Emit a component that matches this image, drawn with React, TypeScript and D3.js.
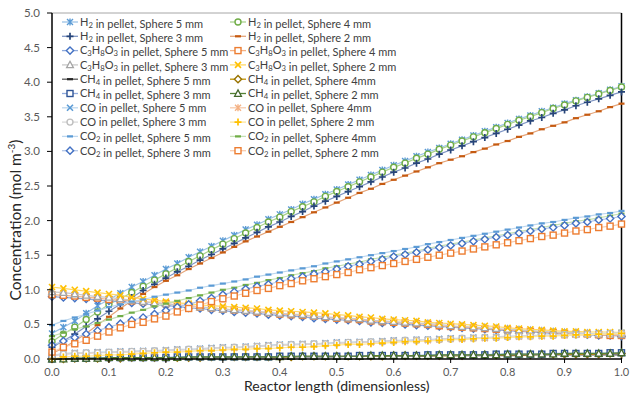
import * as d3 from "d3";

// reactor length, dimensionless (marker positions)
const xValues = [0, 0.02, 0.04, 0.06, 0.08, 0.1, 0.12, 0.14, 0.16, 0.18, 0.2, 0.22, 0.24, 0.26, 0.28, 0.3, 0.32, 0.34, 0.36, 0.38, 0.4, 0.42, 0.44, 0.46, 0.48, 0.5, 0.52, 0.54, 0.56, 0.58, 0.6, 0.62, 0.64, 0.66, 0.68, 0.7, 0.72, 0.74, 0.76, 0.78, 0.8, 0.82, 0.84, 0.86, 0.88, 0.9, 0.92, 0.94, 0.96, 0.98, 1];

const xTicks = [0, 0.1, 0.2, 0.3, 0.4, 0.5, 0.6, 0.7, 0.8, 0.9, 1];
const yTicks = [0, 0.5, 1, 1.5, 2, 2.5, 3, 3.5, 4, 4.5, 5];

// H2
const h2s5 = [0.37, 0.46, 0.55, 0.66, 0.77, 0.86, 0.95, 1.04, 1.12, 1.21, 1.30, 1.38, 1.47, 1.55, 1.63, 1.71, 1.79, 1.87, 1.94, 2.02, 2.09, 2.16, 2.24, 2.31, 2.38, 2.45, 2.52, 2.59, 2.66, 2.73, 2.80, 2.86, 2.93, 2.99, 3.05, 3.11, 3.17, 3.23, 3.29, 3.35, 3.41, 3.47, 3.52, 3.58, 3.63, 3.69, 3.74, 3.79, 3.84, 3.89, 3.94];
const h2s4 = [0.25, 0.36, 0.46, 0.57, 0.68, 0.79, 0.87, 0.96, 1.05, 1.14, 1.23, 1.32, 1.41, 1.49, 1.58, 1.66, 1.74, 1.82, 1.90, 1.98, 2.05, 2.13, 2.20, 2.27, 2.35, 2.42, 2.49, 2.56, 2.63, 2.70, 2.77, 2.83, 2.90, 2.96, 3.03, 3.09, 3.15, 3.21, 3.27, 3.33, 3.39, 3.45, 3.50, 3.56, 3.62, 3.67, 3.73, 3.78, 3.83, 3.88, 3.93];
const h2s3 = [0.17, 0.26, 0.36, 0.47, 0.58, 0.69, 0.79, 0.89, 0.99, 1.08, 1.17, 1.26, 1.34, 1.43, 1.51, 1.59, 1.67, 1.75, 1.83, 1.91, 1.98, 2.06, 2.13, 2.21, 2.28, 2.35, 2.42, 2.49, 2.56, 2.63, 2.70, 2.76, 2.83, 2.89, 2.96, 3.02, 3.08, 3.14, 3.20, 3.26, 3.32, 3.38, 3.44, 3.49, 3.55, 3.60, 3.66, 3.71, 3.76, 3.81, 3.86];
const h2s2 = [0.08, 0.16, 0.26, 0.37, 0.49, 0.61, 0.73, 0.84, 0.94, 1.04, 1.13, 1.21, 1.30, 1.38, 1.46, 1.54, 1.62, 1.70, 1.77, 1.84, 1.91, 1.98, 2.05, 2.12, 2.19, 2.26, 2.33, 2.40, 2.46, 2.53, 2.59, 2.65, 2.71, 2.77, 2.83, 2.88, 2.93, 2.99, 3.04, 3.10, 3.15, 3.21, 3.26, 3.32, 3.37, 3.42, 3.48, 3.53, 3.58, 3.64, 3.69];

// C3H8O3
const glyS5 = [0.90, 0.89, 0.88, 0.87, 0.85, 0.84, 0.83, 0.81, 0.80, 0.78, 0.77, 0.76, 0.74, 0.73, 0.71, 0.70, 0.68, 0.67, 0.66, 0.64, 0.63, 0.62, 0.61, 0.59, 0.58, 0.57, 0.56, 0.55, 0.53, 0.52, 0.51, 0.50, 0.49, 0.48, 0.47, 0.46, 0.45, 0.44, 0.43, 0.42, 0.41, 0.40, 0.39, 0.38, 0.37, 0.36, 0.36, 0.35, 0.34, 0.34, 0.33];
const glyS4 = [0.93, 0.92, 0.91, 0.89, 0.88, 0.86, 0.85, 0.84, 0.83, 0.81, 0.80, 0.78, 0.77, 0.75, 0.74, 0.72, 0.71, 0.70, 0.68, 0.67, 0.65, 0.64, 0.63, 0.62, 0.60, 0.59, 0.58, 0.57, 0.55, 0.54, 0.53, 0.52, 0.51, 0.50, 0.48, 0.47, 0.46, 0.45, 0.44, 0.43, 0.42, 0.41, 0.40, 0.39, 0.38, 0.37, 0.36, 0.36, 0.35, 0.34, 0.34];
const glyS3 = [0.97, 0.96, 0.94, 0.92, 0.90, 0.89, 0.87, 0.85, 0.83, 0.81, 0.80, 0.78, 0.77, 0.75, 0.74, 0.72, 0.71, 0.70, 0.69, 0.67, 0.66, 0.65, 0.64, 0.62, 0.61, 0.60, 0.59, 0.58, 0.56, 0.55, 0.54, 0.53, 0.52, 0.51, 0.50, 0.48, 0.47, 0.46, 0.45, 0.44, 0.43, 0.42, 0.41, 0.40, 0.39, 0.38, 0.38, 0.37, 0.36, 0.36, 0.35];
const glyS2 = [1.04, 1.02, 1.00, 0.98, 0.96, 0.94, 0.92, 0.89, 0.87, 0.85, 0.83, 0.81, 0.80, 0.78, 0.77, 0.76, 0.75, 0.74, 0.73, 0.71, 0.70, 0.69, 0.68, 0.67, 0.66, 0.64, 0.63, 0.61, 0.60, 0.58, 0.57, 0.56, 0.55, 0.53, 0.52, 0.51, 0.50, 0.49, 0.48, 0.47, 0.45, 0.44, 0.43, 0.42, 0.41, 0.40, 0.40, 0.39, 0.39, 0.39, 0.38];

// CH4
const ch4s5 = [0.00, 0.00, 0.01, 0.01, 0.01, 0.01, 0.01, 0.01, 0.01, 0.02, 0.02, 0.02, 0.02, 0.02, 0.02, 0.02, 0.02, 0.03, 0.03, 0.03, 0.03, 0.03, 0.03, 0.03, 0.03, 0.03, 0.04, 0.04, 0.04, 0.04, 0.04, 0.04, 0.04, 0.04, 0.05, 0.05, 0.05, 0.05, 0.05, 0.05, 0.05, 0.05, 0.06, 0.06, 0.06, 0.06, 0.06, 0.06, 0.06, 0.06, 0.06];
const ch4s4 = [0.00, 0.00, 0.01, 0.01, 0.01, 0.01, 0.01, 0.02, 0.02, 0.02, 0.02, 0.02, 0.02, 0.02, 0.03, 0.03, 0.03, 0.03, 0.03, 0.03, 0.03, 0.03, 0.04, 0.04, 0.04, 0.04, 0.04, 0.04, 0.04, 0.04, 0.05, 0.05, 0.05, 0.05, 0.05, 0.05, 0.05, 0.06, 0.06, 0.06, 0.06, 0.06, 0.06, 0.07, 0.07, 0.07, 0.07, 0.07, 0.07, 0.08, 0.08];
const ch4s3 = [0.00, 0.01, 0.01, 0.01, 0.02, 0.02, 0.02, 0.02, 0.02, 0.02, 0.02, 0.03, 0.03, 0.03, 0.03, 0.03, 0.03, 0.03, 0.03, 0.03, 0.04, 0.04, 0.04, 0.04, 0.04, 0.04, 0.04, 0.05, 0.05, 0.05, 0.05, 0.05, 0.05, 0.06, 0.06, 0.06, 0.06, 0.06, 0.06, 0.07, 0.07, 0.07, 0.07, 0.07, 0.08, 0.08, 0.08, 0.08, 0.08, 0.09, 0.09];
const ch4s2 = [0.00, 0.00, 0.01, 0.01, 0.01, 0.02, 0.02, 0.02, 0.02, 0.02, 0.02, 0.02, 0.03, 0.03, 0.03, 0.03, 0.03, 0.03, 0.03, 0.03, 0.03, 0.04, 0.04, 0.04, 0.04, 0.04, 0.04, 0.04, 0.05, 0.05, 0.05, 0.05, 0.05, 0.05, 0.06, 0.06, 0.06, 0.06, 0.06, 0.06, 0.07, 0.07, 0.07, 0.07, 0.07, 0.08, 0.08, 0.08, 0.08, 0.08, 0.09];

// CO
const coS5 = [0.05, 0.08, 0.09, 0.09, 0.10, 0.10, 0.11, 0.11, 0.12, 0.12, 0.13, 0.14, 0.14, 0.15, 0.16, 0.17, 0.17, 0.18, 0.19, 0.20, 0.21, 0.21, 0.22, 0.22, 0.23, 0.24, 0.24, 0.25, 0.25, 0.26, 0.27, 0.27, 0.28, 0.28, 0.29, 0.30, 0.30, 0.31, 0.31, 0.32, 0.33, 0.33, 0.34, 0.34, 0.35, 0.35, 0.36, 0.36, 0.37, 0.37, 0.38];
const coS4 = [0.04, 0.07, 0.08, 0.08, 0.09, 0.09, 0.10, 0.10, 0.11, 0.11, 0.12, 0.13, 0.13, 0.14, 0.15, 0.16, 0.16, 0.17, 0.18, 0.19, 0.20, 0.20, 0.21, 0.21, 0.22, 0.23, 0.23, 0.24, 0.24, 0.25, 0.26, 0.26, 0.27, 0.27, 0.28, 0.29, 0.29, 0.30, 0.30, 0.31, 0.32, 0.32, 0.33, 0.33, 0.34, 0.34, 0.35, 0.35, 0.36, 0.36, 0.37];
const coS3 = [0.05, 0.07, 0.08, 0.09, 0.09, 0.10, 0.10, 0.11, 0.11, 0.12, 0.12, 0.13, 0.14, 0.14, 0.15, 0.16, 0.17, 0.17, 0.18, 0.19, 0.20, 0.21, 0.21, 0.22, 0.22, 0.23, 0.24, 0.24, 0.25, 0.25, 0.26, 0.27, 0.27, 0.28, 0.28, 0.29, 0.30, 0.30, 0.31, 0.31, 0.32, 0.33, 0.33, 0.34, 0.34, 0.35, 0.35, 0.36, 0.36, 0.37, 0.37];
const coS2 = [0.00, 0.03, 0.04, 0.04, 0.05, 0.06, 0.06, 0.07, 0.08, 0.09, 0.10, 0.10, 0.11, 0.12, 0.12, 0.13, 0.14, 0.14, 0.15, 0.15, 0.16, 0.17, 0.17, 0.18, 0.19, 0.20, 0.21, 0.21, 0.22, 0.23, 0.24, 0.25, 0.25, 0.26, 0.27, 0.28, 0.28, 0.29, 0.30, 0.30, 0.31, 0.32, 0.32, 0.33, 0.33, 0.34, 0.35, 0.35, 0.36, 0.36, 0.37];

// CO2
const co2s5 = [0.49, 0.55, 0.60, 0.65, 0.70, 0.75, 0.79, 0.83, 0.86, 0.90, 0.93, 0.96, 0.99, 1.03, 1.06, 1.09, 1.12, 1.15, 1.19, 1.22, 1.25, 1.28, 1.31, 1.34, 1.38, 1.41, 1.44, 1.47, 1.50, 1.53, 1.56, 1.59, 1.62, 1.66, 1.69, 1.72, 1.75, 1.78, 1.81, 1.84, 1.87, 1.90, 1.93, 1.96, 1.98, 2.01, 2.04, 2.06, 2.09, 2.11, 2.14];
const co2s4 = [0.33, 0.38, 0.43, 0.47, 0.52, 0.57, 0.62, 0.67, 0.71, 0.76, 0.80, 0.84, 0.88, 0.92, 0.96, 1.00, 1.03, 1.07, 1.10, 1.14, 1.17, 1.21, 1.24, 1.27, 1.31, 1.34, 1.37, 1.40, 1.44, 1.47, 1.50, 1.53, 1.56, 1.60, 1.63, 1.66, 1.69, 1.72, 1.75, 1.78, 1.81, 1.84, 1.87, 1.90, 1.93, 1.96, 1.99, 2.01, 2.04, 2.07, 2.10];
const co2s3 = [0.20, 0.26, 0.31, 0.36, 0.41, 0.46, 0.51, 0.56, 0.60, 0.65, 0.70, 0.75, 0.79, 0.84, 0.88, 0.93, 0.97, 1.01, 1.05, 1.08, 1.12, 1.16, 1.19, 1.23, 1.26, 1.30, 1.34, 1.37, 1.41, 1.44, 1.48, 1.51, 1.54, 1.58, 1.61, 1.64, 1.67, 1.70, 1.73, 1.76, 1.79, 1.82, 1.85, 1.88, 1.90, 1.93, 1.96, 1.98, 2.01, 2.03, 2.06];
const co2s2 = [0.10, 0.17, 0.22, 0.27, 0.33, 0.39, 0.45, 0.50, 0.53, 0.58, 0.62, 0.68, 0.73, 0.78, 0.83, 0.87, 0.91, 0.95, 0.99, 1.02, 1.06, 1.09, 1.13, 1.16, 1.19, 1.22, 1.25, 1.29, 1.32, 1.35, 1.38, 1.41, 1.44, 1.47, 1.50, 1.53, 1.56, 1.59, 1.62, 1.65, 1.68, 1.71, 1.74, 1.77, 1.79, 1.82, 1.85, 1.87, 1.90, 1.92, 1.95];

// series in Excel order (legend is row-major, two columns)
const series = [
  { sp: "H2", size: "5 mm", values: h2s5, color: "#5B9BD5", line: "#9DC3E6", marker: "star" },
  { sp: "H2", size: "4 mm", values: h2s4, color: "#70AD47", line: "#A9D18E", marker: "circle" },
  { sp: "H2", size: "3 mm", values: h2s3, color: "#264478", line: "#7F95C3", marker: "plus" },
  { sp: "H2", size: "2 mm", values: h2s2, color: "#C55A11", line: "#E5A57A", marker: "dash" },
  { sp: "C3H8O3", size: "5 mm", values: glyS5, color: "#4472C4", line: "#8FAADC", marker: "diamond" },
  { sp: "C3H8O3", size: "4 mm", values: glyS4, color: "#ED7D31", line: "#F4B183", marker: "square" },
  { sp: "C3H8O3", size: "3 mm", values: glyS3, color: "#A5A5A5", line: "#C9C9C9", marker: "triangle" },
  { sp: "C3H8O3", size: "2 mm", values: glyS2, color: "#FFC000", line: "#FFD966", marker: "x" },
  { sp: "CH4", size: "5 mm", values: ch4s5, color: "#262626", line: "#595959", marker: "dash" },
  { sp: "CH4", size: "4mm", values: ch4s4, color: "#997300", line: "#BF9000", marker: "diamond" },
  { sp: "CH4", size: "3 mm", values: ch4s3, color: "#2F5597", line: "#8FAADC", marker: "square" },
  { sp: "CH4", size: "2 mm", values: ch4s2, color: "#43682B", line: "#548235", marker: "triangle" },
  { sp: "CO", size: "5 mm", values: coS5, color: "#5B9BD5", line: "#BDD7EE", marker: "x" },
  { sp: "CO", size: "4mm", values: coS4, color: "#F4B183", line: "#F8CBAD", marker: "star" },
  { sp: "CO", size: "3 mm", values: coS3, color: "#BFBFBF", line: "#D9D9D9", marker: "circle" },
  { sp: "CO", size: "2 mm", values: coS2, color: "#FFC000", line: "#FFE699", marker: "plus" },
  { sp: "CO2", size: "5 mm", values: co2s5, color: "#5B9BD5", line: "#BDD7EE", marker: "dash" },
  { sp: "CO2", size: "4mm", values: co2s4, color: "#70AD47", line: "#C5E0B4", marker: "dash" },
  { sp: "CO2", size: "3 mm", values: co2s3, color: "#4472C4", line: "#B4C7E7", marker: "diamond" },
  { sp: "CO2", size: "2 mm", values: co2s2, color: "#ED7D31", line: "#F8CBAD", marker: "square" },
];

const FONT = "Lato, 'Liberation Sans', sans-serif";

function Marker({ type, x, y, color }: { type: string; x: number; y: number; color: string }) {
  const r = 3;
  if (type === "circle")
    return <circle cx={x} cy={y} r={r} fill="white" stroke={color} strokeWidth={1.4} />;
  if (type === "square")
    return <rect x={x - r} y={y - r} width={2 * r} height={2 * r} fill="white" stroke={color} strokeWidth={1.4} />;
  if (type === "diamond")
    return <path d={`M${x},${y - 3.6}L${x + 3.6},${y}L${x},${y + 3.6}L${x - 3.6},${y}Z`} fill="white" stroke={color} strokeWidth={1.4} />;
  if (type === "triangle")
    return <path d={`M${x},${y - 3.6}L${x + 3.4},${y + 2.8}L${x - 3.4},${y + 2.8}Z`} fill="white" stroke={color} strokeWidth={1.3} />;
  if (type === "x")
    return <path d={`M${x - r},${y - r}L${x + r},${y + r}M${x - r},${y + r}L${x + r},${y - r}`} stroke={color} strokeWidth={1.6} fill="none" />;
  if (type === "star")
    return <path d={`M${x - r},${y - r}L${x + r},${y + r}M${x - r},${y + r}L${x + r},${y - r}M${x},${y - 3.5}L${x},${y + 3.5}`} stroke={color} strokeWidth={1.4} fill="none" />;
  if (type === "plus")
    return <path d={`M${x - 3.5},${y}L${x + 3.5},${y}M${x},${y - 3.5}L${x},${y + 3.5}`} stroke={color} strokeWidth={1.7} fill="none" />;
  // dash
  return <rect x={x - 3} y={y - 1.1} width={6} height={2.2} fill={color} />;
}

// chemical formula with subscript digits
function Formula({ text, size }: { text: string; size: number }) {
  const parts: any[] = [];
  let sub = false;
  text.split("").forEach((ch, i) => {
    const isDigit = /[0-9]/.test(ch);
    if (isDigit) {
      parts.push(<tspan key={i} fontSize={size * 0.7} dy={sub ? 0 : 2}>{ch}</tspan>);
      sub = true;
    } else {
      parts.push(<tspan key={i} dy={sub ? -2 : 0}>{ch}</tspan>);
      sub = false;
    }
  });
  if (sub) parts.push(<tspan key="end" dy={-2}>{""}</tspan>);
  return <>{parts}</>;
}

export default function App() {
  const width = 632;
  const height = 394;
  const x = d3.scaleLinear().domain([0, 1]).range([52, 621.5]);
  const y = d3.scaleLinear().domain([0, 5]).range([359, 13]);

  const line = d3.line<number>()
    .x((d, i) => x(xValues[i]))
    .y((d) => y(d));

  const legendFont = 11;

  return (
    <svg width={width} height={height} style={{ position: "absolute", left: 0, top: 0, background: "white" }} fontFamily={FONT}>
      <rect width={width} height={height} fill="white" />

      {/* plot frame */}
      <line x1={x(0)} x2={x(1)} y1={y(5)} y2={y(5)} stroke="#A6A6A6" strokeWidth={1} />
      <line x1={x(1)} x2={x(1)} y1={y(5)} y2={y(0)} stroke="#000" strokeWidth={1.5} />

      {/* series */}
      {series.map((s, si) => (
        <g key={si}>
          <path d={line(s.values) || ""} fill="none" stroke={s.line} strokeWidth={1.2} />
          {s.values.map((v, i) => (
            <Marker key={i} type={s.marker} x={x(xValues[i])} y={y(v)} color={s.color} />
          ))}
        </g>
      ))}

      {/* axes */}
      <line x1={x(0)} x2={x(1)} y1={y(0)} y2={y(0)} stroke="#000" strokeWidth={1.5} />
      <line x1={x(0)} x2={x(0)} y1={y(0)} y2={y(5)} stroke="#000" strokeWidth={1.5} />
      {yTicks.map((t) => (
        <g key={"y" + t}>
          <line x1={x(0) - 5} x2={x(0)} y1={y(t)} y2={y(t)} stroke="#000" strokeWidth={1} />
          <text x={40} y={y(t) + 4} textAnchor="end" fontSize={11.5} fill="#595959">{t.toFixed(1)}</text>
        </g>
      ))}
      {xTicks.map((t) => (
        <g key={"x" + t}>
          <line x1={x(t)} x2={x(t)} y1={y(0)} y2={y(0) + 4} stroke="#000" strokeWidth={1} />
          <text x={x(t)} y={376} textAnchor="middle" fontSize={11} fill="#595959">{t.toFixed(1)}</text>
        </g>
      ))}

      {/* axis titles */}
      <text x={x(0.5)} y={391} textAnchor="middle" fontSize={14} fill="#262626">Reactor length (dimensionless)</text>
      <text transform="translate(21,220) rotate(-90)" textAnchor="middle" fontSize={15.5} fill="#262626">
        Concentration (mol m<tspan fontSize={10} dy={-6}>-3</tspan><tspan dy={6}>)</tspan>
      </text>

      {/* legend */}
      {series.map((s, si) => {
        const col = si % 2;
        const row = Math.floor(si / 2);
        const lx = col === 0 ? 62 : 230;
        const ly = 22 + row * 14.3;
        return (
          <g key={"lg" + si}>
            <line x1={lx} x2={lx + 16} y1={ly} y2={ly} stroke={s.line} strokeWidth={1.3} />
            <Marker type={s.marker} x={lx + 8} y={ly} color={s.color} />
            <text x={lx + 18} y={ly + 3.8} fontSize={legendFont} fill="#404040">
              <Formula text={s.sp} size={legendFont} />
              <tspan>{` in pellet, Sphere ${s.size}`}</tspan>
            </text>
          </g>
        );
      })}
    </svg>
  );
}
